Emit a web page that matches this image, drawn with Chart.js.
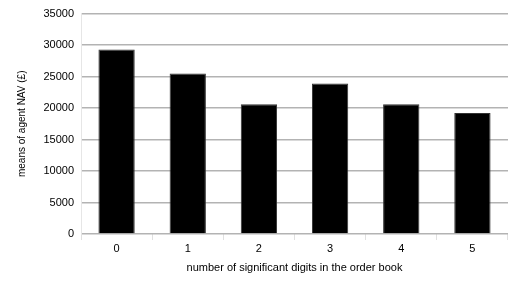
<!DOCTYPE html>
<html>
<head>
<meta charset="utf-8">
<script src="https://cdn.jsdelivr.net/npm/chart.js@4"></script>
<style>
  html, body { margin: 0; padding: 0; background: #fff; }
  #wrap { width: 517px; height: 291px; }
</style>
</head>
<body>
<div id="wrap"><canvas id="chart" width="517" height="291"></canvas></div>
<script>
// valores
const digits = ['0', '1', '2', '3', '4', '5'];
const meanNav = [29300, 25500, 20600, 23900, 20600, 19200];
const yTicks = [0, 5000, 10000, 15000, 20000, 25000, 30000, 35000];

const fontBase = { family: "'Liberation Sans', Arial, sans-serif", size: 11 };

new Chart(document.getElementById('chart'), {
  type: 'bar',
  data: {
    labels: digits,
    datasets: [{
      data: meanNav,
      backgroundColor: '#000000',
      borderColor: '#333333',
      borderWidth: 1,
      barPercentage: 0.51,
      categoryPercentage: 1
    }]
  },
  options: {
    responsive: false,
    animation: false,
    layout: { padding: { left: 16, right: 9, top: 13, bottom: 16 } },
    plugins: { legend: { display: false }, tooltip: { enabled: false } },
    scales: {
      x: {
        grid: { display: true, drawOnChartArea: false, color: '#e0e0e0', tickLength: 6, offset: true },
        border: { display: false },
        ticks: { color: '#000', font: fontBase, padding: 2 },
        title: {
          display: true,
          text: 'number of significant digits in the order book',
          color: '#000',
          font: fontBase,
          padding: { top: 6, bottom: 0 }
        },
        afterFit: (axis) => { axis.height = 41; }
      },
      y: {
        min: 0,
        max: 35000,
        afterBuildTicks: (axis) => { axis.ticks = yTicks.map(v => ({ value: v })); },
        grid: { color: '#b3b3b3', lineWidth: 1.5, drawTicks: false },
        border: { display: true, color: '#e6e6e6' },
        ticks: { color: '#000', font: fontBase, padding: 7, callback: (v) => String(v) },
        title: {
          display: true,
          text: 'means of agent NAV (£)',
          color: '#000',
          font: { family: fontBase.family, size: 10 },
          padding: { top: 0, bottom: 8 }
        },
        afterFit: (axis) => { axis.width = 65; }
      }
    }
  }
});
</script>
</body>
</html>
